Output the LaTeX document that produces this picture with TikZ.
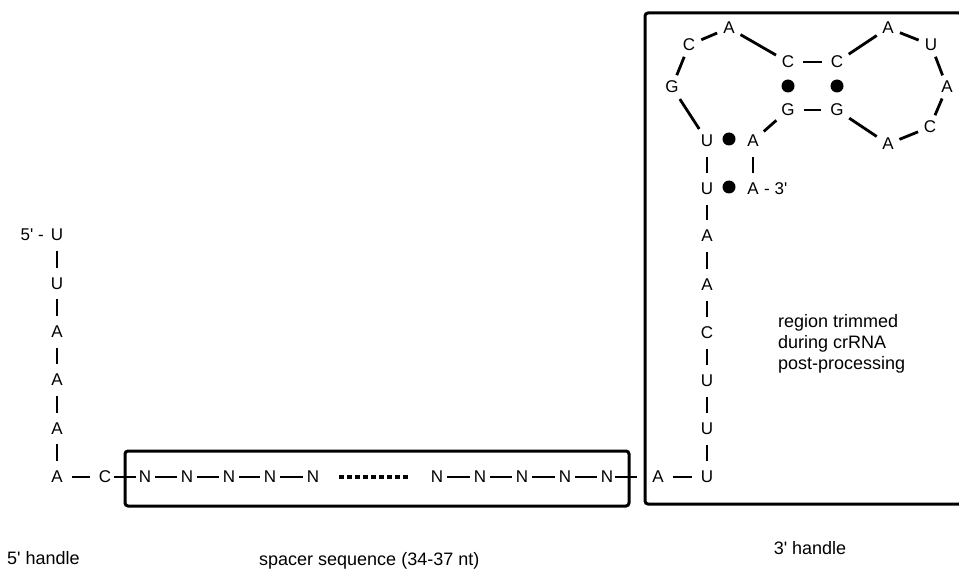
\documentclass[tikz,border=0pt]{standalone}
\usepackage{fontspec}
\setmainfont{Liberation Sans}
\begin{document}
\begin{tikzpicture}[x=1pt,y=-1pt,
  nt/.style={inner sep=0pt, font=\fontsize{17}{17}\selectfont},
  lbl/.style={inner sep=0pt, font=\fontsize{18}{21}\selectfont},
  bond/.style={line width=2.8pt, shorten <=#1, shorten >=#1},
  bond/.default=6pt,
  vbond/.style={line width=2.8pt, shorten <=9.5pt, shorten >=9.5pt},
  pair/.style={circle, fill=black, inner sep=0pt, minimum size=13pt},
  frame/.style={line width=3pt, rounded corners=3pt},
  gap/.style={line width=3.2pt, dash pattern=on 5pt off 3pt, shorten <=20pt, shorten >=20pt}]
\useasboundingbox (0,0) rectangle (959,572);

% boxes around the spacer and the 3' handle
\draw[frame] (125,451) rectangle (629,506);
\draw[frame] (645,13) rectangle (962,504);

% 5' handle column
\node[nt] (l1) at (57,235) {U};
\node[nt] (l2) at (57,283.5) {U};
\node[nt] (l3) at (57,332) {A};
\node[nt] (l4) at (57,380) {A};
\node[nt] (l5) at (57,428.5) {A};
\node[nt] (l6) at (57,477) {A};
\node[nt, anchor=east] (p5) at (44,235) {5\textquotesingle\ -};
\draw[vbond] (l1) -- (l2);
\draw[vbond] (l2) -- (l3);
\draw[vbond] (l3) -- (l4);
\draw[vbond] (l4) -- (l5);
\draw[vbond] (l5) -- (l6);

% bottom row: C, spacer, A
\node[nt] (c0) at (105,477) {C};
\foreach \i/\x in {1/145,2/187,3/229,4/270,5/313,6/437,7/480,8/522,9/565,10/607}
  \node[nt] (n\i) at (\x,477) {N};
\node[nt] (a0) at (658,477) {A};
\draw[bond=9pt] (l6) -- (c0);
\draw[bond=3pt] (c0) -- (n1);
\foreach \i/\j in {1/2,2/3,3/4,4/5,6/7,7/8,8/9,9/10}
  \draw[bond=4pt] (n\i) -- (n\j);
\draw[gap] (n5) -- (n6);
\draw[bond=2pt, shorten >=15pt] (n10) -- (a0);

% 3' handle column
\node[nt] (r1) at (707,477) {U};
\node[nt] (r2) at (707,429) {U};
\node[nt] (r3) at (707,381) {U};
\node[nt] (r4) at (707,333) {C};
\node[nt] (r5) at (707,285) {A};
\node[nt] (r6) at (707,236) {A};
\node[nt] (r7) at (707,189) {U};
\node[nt] (r8) at (707,141) {U};
\draw[bond=9pt] (a0) -- (r1);
\draw[vbond] (r1) -- (r2);
\draw[vbond] (r2) -- (r3);
\draw[vbond] (r3) -- (r4);
\draw[vbond] (r4) -- (r5);
\draw[vbond] (r5) -- (r6);
\draw[vbond] (r6) -- (r7);
\draw[vbond] (r7) -- (r8);

% paired strand ending at the 3' end
\node[nt] (s1) at (753,189) {A};
\node[nt] (s2) at (753,141) {A};
\node[nt, anchor=west] (p3) at (764,189) {- 3\textquotesingle};
\node[pair] (b1) at (729,187) {};
\node[pair] (b2) at (729,139) {};
\draw[vbond] (s1) -- (s2);

% stem-loop
\node[nt] (h1) at (672,87) {G};
\node[nt] (h2) at (689,45) {C};
\node[nt] (h3) at (729,28) {A};
\node[nt] (h4) at (788,62) {C};
\node[nt] (h5) at (837,62) {C};
\node[nt] (h6) at (888,28) {A};
\node[nt] (h7) at (931,45) {U};
\node[nt] (h8) at (947,87) {A};
\node[nt] (h9) at (930,127) {C};
\node[nt] (h10) at (888,144) {A};
\node[nt] (h11) at (837,110) {G};
\node[nt] (h12) at (788,110) {G};
\node[pair] (b3) at (788,86) {};
\node[pair] (b4) at (837,86) {};
\draw[bond=7pt] (r8) -- (h1);
\draw[bond=6pt] (h1) -- (h2);
\draw[bond=6.5pt] (h2) -- (h3);
\draw[bond=6.5pt] (h3) -- (h4);
\draw[bond=9pt] (h4) -- (h5);
\draw[bond=6.5pt] (h5) -- (h6);
\draw[bond=6.5pt] (h6) -- (h7);
\draw[bond=6pt] (h7) -- (h8);
\draw[bond=6pt] (h8) -- (h9);
\draw[bond=6pt] (h9) -- (h10);
\draw[bond=6.5pt] (h10) -- (h11);
\draw[bond=9pt] (h11) -- (h12);
\draw[bond=6.5pt] (h12) -- (s2);

% annotations
\node[lbl, anchor=west, align=left] (trim) at (778,344)
  {region trimmed\\during crRNA\\post-processing};
\node[lbl, anchor=west] (h5lbl) at (7,558) {5\textquotesingle\ handle};
\node[lbl, anchor=west] (splbl) at (259,561) {spacer sequence (34-37 nt)};
\node[lbl] (h3lbl) at (810,548) {3\textquotesingle\ handle};
\end{tikzpicture}
\end{document}
